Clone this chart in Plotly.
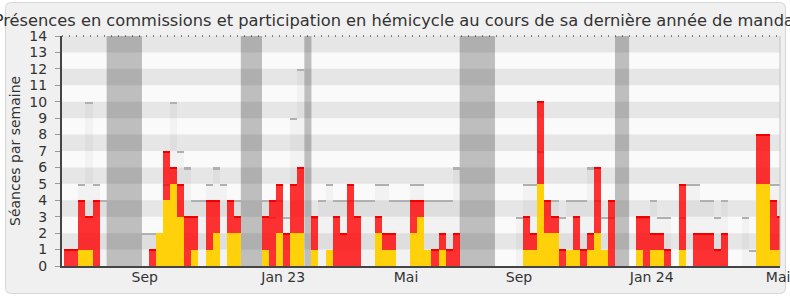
import plotly.graph_objects as go

# ---- data (one entry per week) ----
weeks = list(range(102))
presences_total = [1, 1, 4, 3, 4, 0, 0, 0, 0, 0, 0, 0, 1, 2, 7, 6, 5, 3, 3, 0,
                   4, 4, 0, 4, 3, 0, 0, 0, 3, 4, 5, 2, 5, 6, 0, 3, 0, 1, 3, 2,
                   5, 3, 0, 0, 3, 2, 2, 0, 0, 4, 4, 1, 1, 2, 1, 2, 0, 0, 0, 0,
                   0, 0, 0, 0, 0, 3, 2, 10, 4, 3, 1, 1, 3, 1, 2, 6, 1, 4, 0, 0,
                   0, 3, 3, 2, 2, 1, 0, 5, 0, 2, 2, 2, 1, 2, 0, 0, 0, 0, 8, 8,
                   4, 3]
hemicycle = [0, 0, 1, 1, 0, 0, 0, 0, 0, 0, 0, 0, 0, 2, 4, 5, 3, 0, 1, 0,
             1, 2, 0, 2, 2, 0, 0, 0, 1, 0, 2, 0, 2, 2, 0, 1, 0, 1, 0, 0,
             0, 0, 0, 0, 2, 1, 1, 0, 0, 2, 3, 1, 0, 1, 0, 0, 0, 0, 0, 0,
             0, 0, 0, 0, 0, 1, 1, 5, 2, 2, 0, 1, 1, 0, 1, 2, 1, 0, 0, 0,
             0, 1, 0, 1, 1, 0, 0, 1, 0, 0, 0, 0, 0, 0, 0, 0, 0, 0, 5, 5,
             1, 1]
mediane = [0, 0, 5, 10, 5, 4, 0, 0, 0, 0, 0, 2, 2, 2, 5, 10, 7, 6, 4, 4,
           5, 6, 5, 4, 4, 0, 0, 0, 4, 3, 4, 3, 9, 12, 0, 3, 4, 5, 4, 4,
           4, 4, 4, 4, 5, 5, 4, 4, 4, 5, 5, 4, 4, 4, 4, 6, 0, 0, 0, 0,
           0, 0, 0, 0, 3, 5, 5, 7, 4, 4, 3, 4, 4, 4, 6, 4, 3, 3, 0, 0,
           0, 3, 3, 4, 3, 3, 0, 3, 5, 5, 4, 4, 3, 4, 0, 0, 3, 1, 5, 5,
           5, 5]
vacances = [(6, 10), (25, 27), (34, 34), (56, 60), (78, 79)]
tick_labels = ["Sep", "Jan 23", "Mai", "Sep", "Jan 24", "Mai"]
tick_weeks = [10.9, 30.5, 47.9, 63.9, 82.7, 100.6]
y_ticks = list(range(15))

# ---- layout constants ----
FONT = "DejaVu Sans, sans-serif"
L, T, W, H = 62, 36, 718, 230
XR = [-0.826, 100.87]
YMAX = 14


def px(x):
    return (x - L) / W


def py(y):
    return (T + H - y) / H


fig = go.Figure()

# median (light column + grey top edge)
fig.add_trace(go.Bar(x=weeks, y=mediane, width=1,
                     marker=dict(color="rgba(0,0,0,0.03)", line=dict(width=0))))
med_base = [m - 0.1 if m > 0 else None for m in mediane]
fig.add_trace(go.Bar(x=weeks, y=[0.1 if m > 0 else None for m in mediane],
                     base=med_base, width=1,
                     marker=dict(color="#b0b0b0", line=dict(width=0))))
# commission presences (red)
fig.add_trace(go.Bar(x=weeks, y=presences_total, width=1,
                     marker=dict(color="rgba(255,0,0,0.8)", line=dict(width=0))))
fig.add_trace(go.Bar(x=weeks,
                     y=[0.07 if r > h else None for r, h in zip(presences_total, hemicycle)],
                     base=[r - 0.07 for r in presences_total], width=1,
                     marker=dict(color="#f20000", line=dict(width=0))))
# hemicycle participation (yellow)
fig.add_trace(go.Bar(x=weeks, y=hemicycle, width=1,
                     marker=dict(color="#ffd10a", line=dict(width=0))))

shapes = []
# outer panel with hole for plot area
x0, y0, x1, y1 = 5.5, 2.5, 785.5, 293.5
r = 6
rounded = (f"M {px(x0 + r)},{py(y0)} L {px(x1 - r)},{py(y0)} Q {px(x1)},{py(y0)} {px(x1)},{py(y0 + r)} "
           f"L {px(x1)},{py(y1 - r)} Q {px(x1)},{py(y1)} {px(x1 - r)},{py(y1)} "
           f"L {px(x0 + r)},{py(y1)} Q {px(x0)},{py(y1)} {px(x0)},{py(y1 - r)} "
           f"L {px(x0)},{py(y0 + r)} Q {px(x0)},{py(y0)} {px(x0 + r)},{py(y0)} Z")
shapes.append(dict(type="path", xref="paper", yref="paper",
                   path=rounded + " M 0,1 L 0,0 L 1,0 L 1,1 Z",
                   fillcolor="#f0f0f0", line=dict(width=0), layer="below",
                   fillrule="evenodd"))
shapes.append(dict(type="path", xref="paper", yref="paper", path=rounded,
                   line=dict(color="#d6d6d6", width=1), layer="below"))

# vacation bands
for s, e in vacances:
    shapes.append(dict(type="rect", xref="x", yref="y", x0=s - 0.5, x1=e + 0.5,
                       y0=0, y1=YMAX, fillcolor="#bebebe", line=dict(width=0),
                       layer="below"))
# horizontal stripes
for v in range(1, YMAX, 2):
    shapes.append(dict(type="rect", xref="x", yref="y", x0=XR[0] - 1, x1=XR[1] + 1,
                       y0=v, y1=v + 1, fillcolor="rgba(0,0,0,0.08)",
                       line=dict(width=0), layer="below"))
# dotted top line and right edge
shapes.append(dict(type="line", xref="paper", yref="paper", x0=0, x1=1, y0=1, y1=1,
                   line=dict(color="#111111", width=1, dash="1px,6px"), layer="above"))
shapes.append(dict(type="line", xref="paper", yref="paper", x0=1, x1=1, y0=0, y1=1,
                   line=dict(color="#c4c4c4", width=1), layer="above"))

fig.update_layout(
    width=790, height=300,
    margin=dict(l=L, r=790 - L - W, t=T, b=300 - T - H, pad=0, autoexpand=False),
    paper_bgcolor="white",
    plot_bgcolor="#fafafa",
    barmode="overlay",
    bargap=0,
    showlegend=False,
    font=dict(family=FONT, size=14, color="#333333"),
    title=dict(text="Présences en commissions et participation en hémicycle au cours de sa dernière année de mandat",
               x=0.5 + 2 / 790, xanchor="center", xref="container",
               y=1 - 20.5 / 300, yanchor="middle", yref="container",
               font=dict(family=FONT, size=16.25, color="#333333")),
    shapes=shapes,
    annotations=[dict(text="Séances par semaine", textangle=-90, showarrow=False,
                      xref="paper", yref="paper", x=px(15), y=0.5,
                      xanchor="center", yanchor="middle",
                      font=dict(family=FONT, size=14, color="#333333"))],
)
fig.update_xaxes(range=XR, tickvals=tick_weeks, ticktext=tick_labels, ticks="",
                 showgrid=False, zeroline=False, showline=True, linecolor="#444444",
                 linewidth=2, tickfont=dict(size=14, color="#333333"),
                 ticklabeloverflow="allow", ticklabelstandoff=-3, automargin=False)
fig.update_yaxes(range=[0, YMAX], tickvals=y_ticks, ticks="outside", ticklen=5,
                 tickcolor="#999999", tickwidth=1, showgrid=False, zeroline=False,
                 showline=True, linecolor="#444444", linewidth=2,
                 tickfont=dict(size=14, color="#333333"), ticklabelstandoff=5,
                 automargin=False)

fig.write_html("out.html")
